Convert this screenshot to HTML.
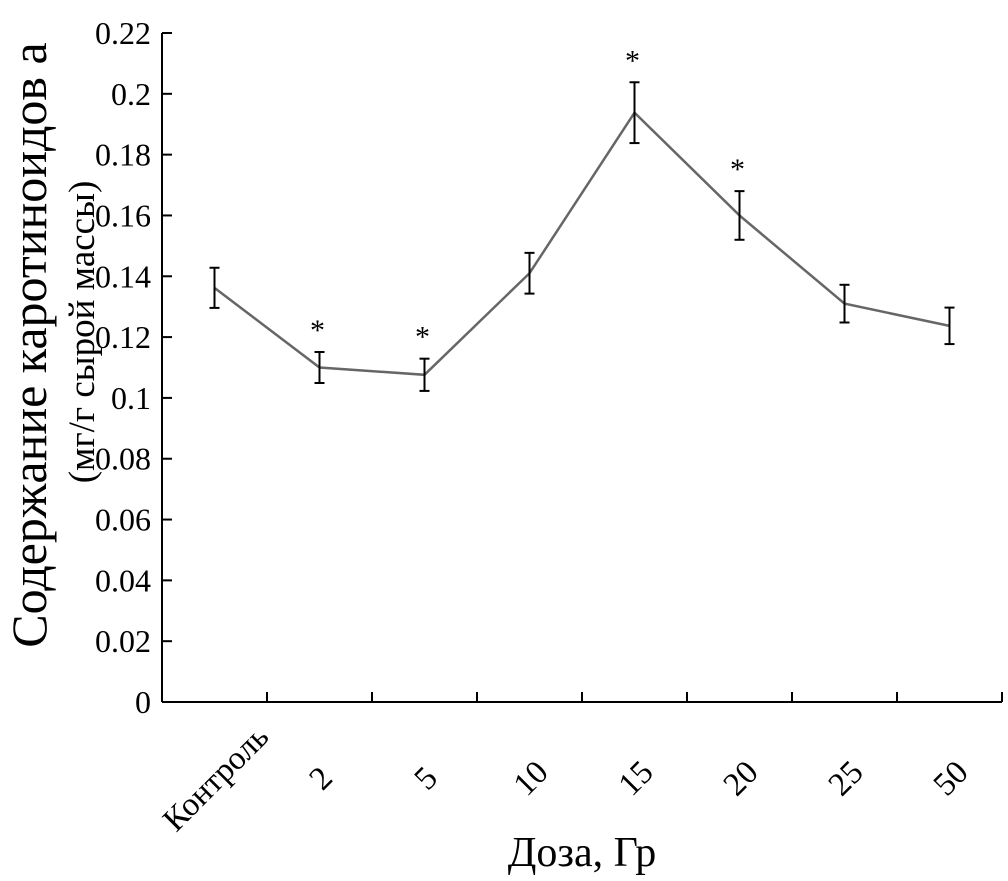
<!DOCTYPE html>
<html><head><meta charset="utf-8"><style>
body{margin:0;background:#fff}
svg{display:block;font-family:"Liberation Serif","DejaVu Serif",serif}
</style></head><body>
<svg id="chart" width="1008" height="881" viewBox="0 0 1008 881" xmlns="http://www.w3.org/2000/svg">
<g id="axes"></g>
<g id="marks"></g>
<text x="582" y="866" font-size="42" text-anchor="middle">Доза, Гр</text>
<text transform="translate(46,345) rotate(-90)" font-size="50" text-anchor="middle">Содержание каротиноидов а</text>
<text transform="translate(94,332) rotate(-90)" font-size="37" text-anchor="middle">(мг/г сырой массы)</text>
</svg>
<script>
const categories = ["Контроль","2","5","10","15","20","25","50"];
const values = [0.1362,0.110,0.1076,0.141,0.1938,0.160,0.131,0.1237];
const errors = [0.0066,0.0051,0.0053,0.0067,0.0100,0.0080,0.0062,0.0060];
const significant = [false,true,true,false,true,true,false,false];
const yTicks = [0,0.02,0.04,0.06,0.08,0.1,0.12,0.14,0.16,0.18,0.2,0.22];
const yTickLabels = ["0","0.02","0.04","0.06","0.08","0.1","0.12","0.14","0.16","0.18","0.2","0.22"];

const NS="http://www.w3.org/2000/svg";
const x0=162,x1=1002,y0=702,y1=33,yMax=0.22;
const band=(x1-x0)/categories.length;
function xs(i){return x0+band*(i+0.5);}
function ys(v){return y0-(v/yMax)*(y0-y1);}
function mk(tag,attrs,parent){const e=document.createElementNS(NS,tag);for(const k in attrs)e.setAttribute(k,attrs[k]);parent.appendChild(e);return e;}
const axes=document.getElementById('axes'),marks=document.getElementById('marks');
let e=mk('line',{x1:x0,y1:y1,x2:x0,y2:y0,stroke:'#000','stroke-width':2},axes);


e=mk('line',{x1:x0,y1:y0,x2:x1,y2:y0,stroke:'#000','stroke-width':2},axes);


yTicks.forEach((t,i)=>{
  const y=ys(t);
  let l=mk('line',{x1:x0,y1:y,x2:x0+10,y2:y,stroke:'#000','stroke-width':2},axes);
  
  
  let tx=mk('text',{x:151,y:y+11,'font-size':32,'text-anchor':'end'},axes);
  tx.textContent=yTickLabels[i];
  
  
});
for(let i=1;i<=categories.length;i++){
  const x=x0+band*i;
  let l=mk('line',{x1:x,y1:y0,x2:x,y2:y0-10,stroke:'#000','stroke-width':2},axes);
  
  
}
categories.forEach((c,i)=>{
  const x=xs(i)+1,y=778;
  let tx=mk('text',{x:x,y:y+11,'font-size':33,'text-anchor':'middle',transform:`rotate(-45 ${x} ${y})`},axes);
  tx.textContent=c;
  
  
});
const pts=values.map((v,i)=>xs(i)+','+ys(v)).join(' ');
let pl=mk('polyline',{points:pts,fill:'none',stroke:'#666','stroke-width':2.5},marks);


values.forEach((v,i)=>{
  const x=xs(i),ya=ys(v+errors[i]),yb=ys(v-errors[i]);
  const g=mk('g',{stroke:'#000','stroke-width':2},marks);
  
  
  mk('line',{x1:x,y1:ya,x2:x,y2:yb},g);
  mk('line',{x1:x-5,y1:ya,x2:x+5,y2:ya},g);
  mk('line',{x1:x-5,y1:yb,x2:x+5,y2:yb},g);
  if(significant[i]){
    let s=mk('text',{x:x-2,y:ya-12,'font-size':30,'text-anchor':'middle'},marks);
    s.textContent='*';
    
    
  }
});
</script>
</body></html>
